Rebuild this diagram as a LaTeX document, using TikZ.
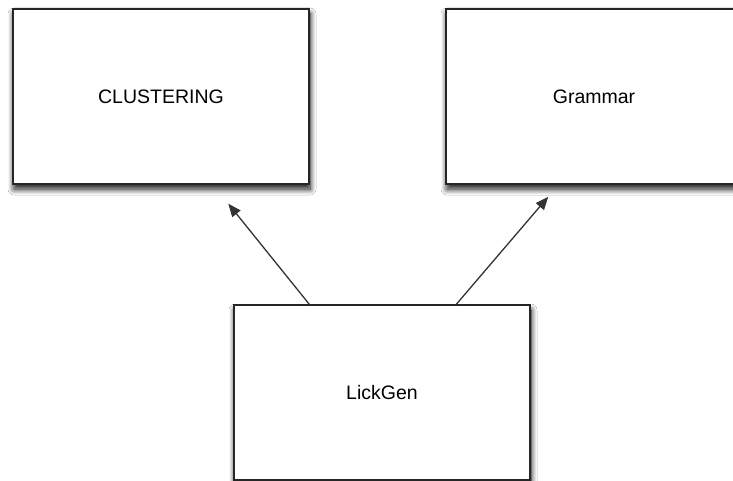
\documentclass[tikz,border=0pt]{standalone}
\usepackage{fontspec}
\setmainfont{Liberation Sans}
\usetikzlibrary{shadows.blur,arrows.meta}
\begin{document}
\begin{tikzpicture}[x=1pt,y=-1pt,
  block/.style={draw=black!85, line width=1.4pt, fill=white,
    minimum width=296pt, minimum height=175pt, inner sep=0pt,
    font=\fontsize{19.5}{22}\selectfont,
    blur shadow={shadow xshift=1pt, shadow yshift=-5pt,
      shadow blur radius=6pt, shadow blur steps=12, shadow opacity=95}},
  link/.style={draw=black!80, line width=1.3pt,
    -{Triangle[length=13pt,width=10.5pt]}}]
  \useasboundingbox (0,0) rectangle (733,481);
  \clip (0,0) rectangle (733,481);
  \fill[white] (0,0) rectangle (733,481);
  \node[block] (clust) at (161,96.5) {CLUSTERING};
  \node[block] (gram) at (594,96.5) {Grammar};
  \node[block] (lick) at (382,392.5) {LickGen};
  \draw[link] ([xshift=76pt]lick.north west) -- ([xshift=216pt,yshift=-19pt]clust.south west);
  \draw[link] ([xshift=223pt]lick.north west) -- ([xshift=103pt,yshift=-12pt]gram.south west);
\end{tikzpicture}
\end{document}
